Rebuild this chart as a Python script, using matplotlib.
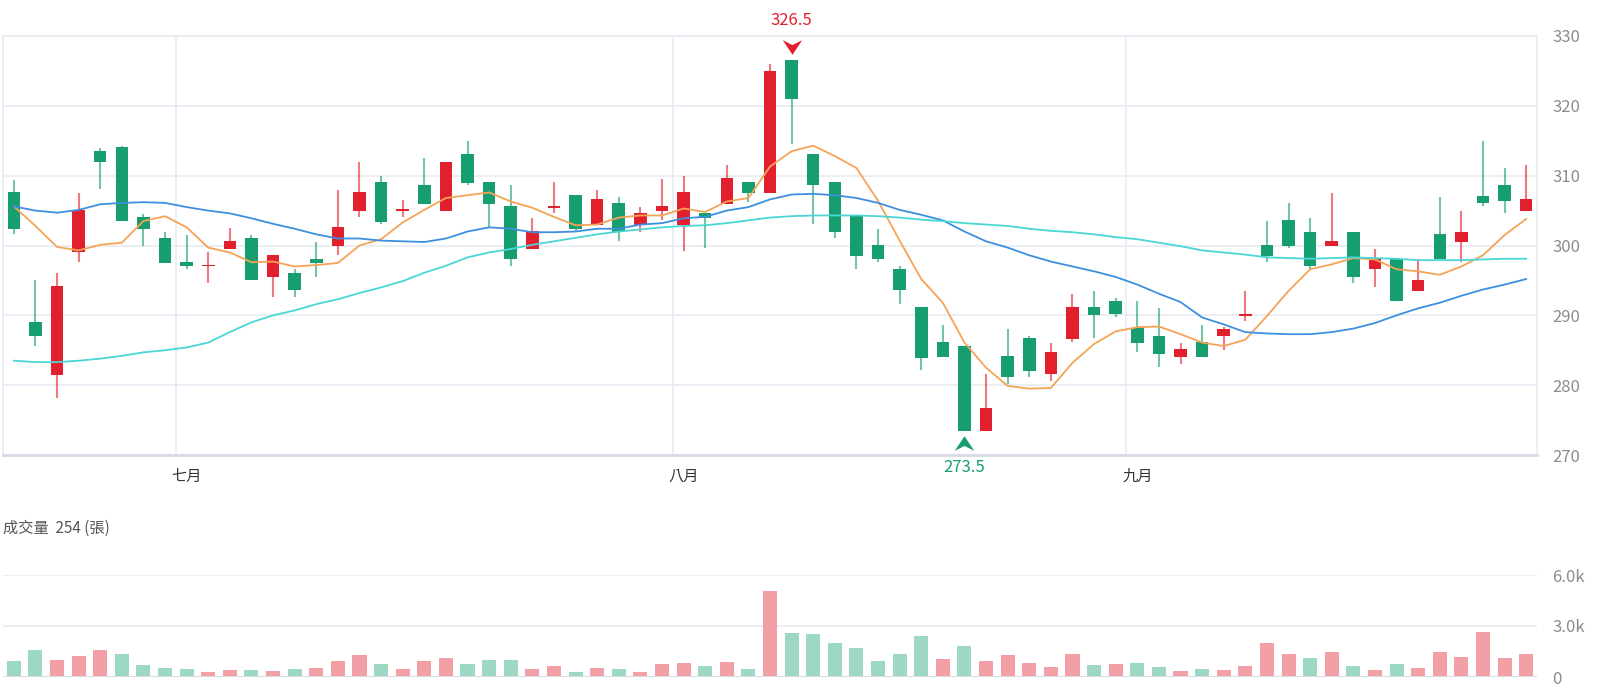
import numpy as np
import matplotlib
matplotlib.use('Agg')
import matplotlib.pyplot as plt
from matplotlib.path import Path
from matplotlib.transforms import offset_copy

plt.rcParams['font.family'] = ['Noto Sans CJK TC', 'DejaVu Sans']

# 日K資料 (讀自圖片)
opens = [307.6, 289.1, 281.5, 299.0, 313.6, 314.1, 304.1, 301.1, 297.6, 297.0,
         299.5, 301.1, 295.5, 296.1, 298.1, 300.0, 305.0, 309.1, 305.0, 308.7,
         305.0, 313.1, 309.1, 305.7, 299.5, 305.4, 307.2, 303.0, 306.1, 303.0,
         304.9, 303.0, 304.7, 306.0, 309.1, 307.5, 326.5, 313.1, 309.1, 304.2,
         300.1, 296.7, 291.2, 286.2, 285.6, 273.5, 284.2, 286.7, 281.6, 286.6,
         291.2, 292.1, 288.2, 287.1, 284.0, 286.2, 287.0, 289.9, 300.1, 303.6,
         302.0, 300.0, 302.0, 296.6, 298.1, 293.5, 301.7, 300.5, 307.1, 308.7, 304.9]
closes = [302.4, 287.0, 294.2, 305.1, 312.0, 303.5, 302.4, 297.5, 297.0, 297.2,
          300.6, 295.0, 298.6, 293.6, 297.5, 302.6, 307.6, 303.4, 305.2, 306.0,
          312.0, 309.0, 306.0, 298.0, 302.1, 305.7, 302.4, 306.6, 302.0, 304.7,
          305.7, 307.6, 304.0, 309.7, 307.5, 325.0, 321.0, 308.6, 302.0, 298.5,
          298.0, 293.6, 283.9, 284.0, 273.5, 276.7, 281.1, 282.0, 284.7, 291.2,
          290.0, 290.2, 286.1, 284.5, 285.2, 284.0, 288.1, 290.1, 298.5, 300.0,
          297.0, 300.6, 295.5, 298.1, 292.0, 295.1, 298.1, 302.0, 306.1, 306.4, 306.6]
highs = [309.4, 295.0, 296.0, 307.5, 314.0, 314.2, 304.5, 302.0, 301.5, 299.0,
         302.5, 301.5, 298.6, 296.6, 300.5, 308.0, 312.0, 310.0, 306.5, 312.5,
         312.0, 315.0, 309.1, 308.6, 304.0, 309.1, 307.2, 308.0, 307.0, 305.5,
         309.5, 310.0, 304.7, 311.5, 309.1, 326.0, 326.5, 313.1, 309.1, 304.2,
         302.4, 297.0, 291.2, 288.6, 285.6, 281.6, 288.0, 287.1, 286.1, 293.1,
         293.5, 292.5, 292.0, 291.1, 286.1, 288.6, 288.3, 293.5, 303.5, 306.1,
         303.9, 307.5, 302.0, 299.5, 298.1, 298.0, 307.0, 305.0, 315.0, 311.1, 311.5]
lows = [301.6, 285.6, 278.1, 297.6, 308.1, 303.5, 300.0, 297.5, 296.7, 294.7,
        299.5, 295.0, 292.6, 292.6, 295.5, 298.6, 304.1, 303.1, 304.1, 306.0,
        305.0, 308.6, 302.6, 297.0, 299.5, 304.7, 302.1, 303.0, 300.6, 302.0,
        303.6, 299.2, 299.6, 306.0, 306.2, 307.5, 314.6, 303.1, 301.1, 296.7,
        297.7, 291.6, 282.2, 284.0, 273.5, 273.6, 280.1, 281.1, 280.6, 286.2,
        286.7, 289.7, 284.7, 282.6, 283.1, 284.0, 285.1, 289.2, 297.7, 299.7,
        296.7, 300.0, 294.6, 294.1, 292.0, 293.5, 298.0, 297.7, 305.6, 304.7, 304.9]
volumes = [960, 1607, 980, 1215, 1568, 1333, 706, 529, 470, 274,
           392, 392, 372, 470, 549, 960, 1274, 745, 490, 941,
           1098, 745, 980, 1000, 490, 647, 314, 549, 451, 294,
           745, 823, 647, 902, 451, 5057, 2587, 2528, 1999, 1725,
           921, 1352, 2391, 1058, 1803, 921, 1294, 843, 568, 1352,
           706, 784, 823, 568, 372, 490, 431, 627, 2019, 1333,
           1098, 1450, 666, 412, 764, 529, 1450, 1156, 2646, 1098, 1352]

# 均線
ma5 = [305.6, 302.8, 299.8, 299.3, 300.1, 300.4, 303.5, 304.2, 302.6, 299.7,
       299.0, 297.6, 297.7, 297.0, 297.2, 297.5, 300.0, 300.9, 303.3, 305.1,
       306.8, 307.2, 307.6, 306.3, 305.4, 304.1, 302.9, 303.0, 304.0, 304.3,
       304.3, 305.3, 304.8, 306.3, 306.8, 311.3, 313.5, 314.3, 312.8, 311.1,
       306.4, 300.7, 295.2, 291.8, 286.1, 282.5, 279.9, 279.5, 279.6, 283.2,
       285.9, 287.7, 288.3, 288.4, 287.3, 286.1, 285.6, 286.5, 289.9, 293.5,
       296.6, 297.3, 298.2, 298.0, 296.6, 296.3, 295.8, 297.0, 298.6, 301.5, 303.8]
ma20 = [305.6, 305.0, 304.7, 305.1, 305.9, 306.1, 306.2, 306.1, 305.5, 305.0,
        304.6, 303.9, 303.1, 302.4, 301.6, 301.0, 301.0, 300.7, 300.6, 300.5,
        301.0, 302.0, 302.6, 302.4, 301.9, 301.9, 302.0, 302.4, 302.4, 303.0,
        303.2, 303.9, 304.1, 305.0, 305.5, 306.6, 307.3, 307.4, 307.2, 306.8,
        306.1, 305.1, 304.4, 303.6, 302.0, 300.6, 299.7, 298.6, 297.7, 297.0,
        296.3, 295.5, 294.4, 293.1, 291.9, 289.7, 288.7, 287.6, 287.4, 287.3,
        287.3, 287.6, 288.1, 288.9, 290.0, 291.0, 291.8, 292.8, 293.7, 294.4, 295.2]
ma60 = [283.5, 283.3, 283.3, 283.5, 283.8, 284.2, 284.7, 285.0, 285.4, 286.1,
        287.6, 289.0, 290.0, 290.7, 291.6, 292.3, 293.2, 294.0, 294.9, 296.1,
        297.1, 298.3, 299.0, 299.5, 300.1, 300.6, 301.1, 301.6, 302.0, 302.3,
        302.6, 302.8, 302.9, 303.2, 303.6, 304.0, 304.2, 304.3, 304.3, 304.3,
        304.2, 304.0, 303.7, 303.5, 303.2, 303.0, 302.8, 302.4, 302.1, 301.9,
        301.6, 301.2, 300.9, 300.4, 299.9, 299.3, 299.0, 298.7, 298.3, 298.2,
        298.1, 298.2, 298.3, 298.2, 298.1, 297.9, 297.9, 297.9, 298.0, 298.1, 298.1]

month_labels = ['七月', '八月', '九月']
month_start = [8, 31, 52]
vol_title = '成交量  254 (張)'

RED = '#e2202d'
GREEN = '#169e6f'
RED_V = '#f2a0a5'
GREEN_V = '#9dd8c2'
GRID = '#e8ebf2'
TXT = '#8c8c8c'

o = np.array(opens); c = np.array(closes)
h = np.array(highs); l = np.array(lows)
x = np.arange(len(o))

fig = plt.figure(figsize=(16, 7), dpi=100)
ax = fig.add_axes([3/1600, 1-455/700, 1534/1600, 419/700])
axv = fig.add_axes([3/1600, 1-677/700, 1534/1600, 102/700])

# K線
up = c >= o
cols = np.where(up, RED, GREEN)
ax.vlines(x, l, h, colors=cols, lw=1.5, alpha=0.6, zorder=3)
body = np.maximum(np.abs(c - o), 0.25)
ax.bar(x, body, bottom=np.minimum(o, c), width=0.58, color=cols, zorder=4)

ax.plot(x, ma5, color='#f5a356', lw=1.3, zorder=5)
ax.plot(x, ma20, color='#3d8fe0', lw=1.3, zorder=5)
ax.plot(x, ma60, color='#4ad6d6', lw=1.3, zorder=5)

ax.set_xlim(-0.5, len(x) - 0.5)
ax.set_ylim(270, 330)
ax.set_yticks(np.arange(270, 331, 10))
ax.yaxis.tick_right()
ax.tick_params(axis='y', length=0, pad=11, labelsize=12, labelcolor=TXT)
ax.set_xticks(month_start)
ax.set_xticklabels(month_labels)
ax.tick_params(axis='x', length=0, pad=9, labelsize=11, labelcolor='#333333')
ax.grid(axis='y', color=GRID, lw=1.2, zorder=0)
for m in month_start:
    ax.axvline(m - 0.5, color=GRID, lw=1.2, zorder=0)
for s in ['top', 'left', 'right']:
    ax.spines[s].set_color(GRID)
    ax.spines[s].set_linewidth(1.2)
ax.spines['bottom'].set_color('#d6dbe7')
ax.spines['bottom'].set_linewidth(2)

# 最高/最低標記
down_arrow = Path([(-1, 0.75), (0, -0.75), (1, 0.75), (0, 0.25), (-1, 0.75)],
                  [Path.MOVETO, Path.LINETO, Path.LINETO, Path.LINETO, Path.CLOSEPOLY])
up_arrow = Path([(-1, -0.75), (0, 0.75), (1, -0.75), (0, -0.25), (-1, -0.75)],
                [Path.MOVETO, Path.LINETO, Path.LINETO, Path.LINETO, Path.CLOSEPOLY])
imax = int(np.argmax(h)); imin = int(np.argmin(l))
ax.plot(imax, h[imax], marker=down_arrow, ms=14, color=RED, mew=0, clip_on=False,
        transform=offset_copy(ax.transData, fig=fig, y=13, units='dots'), zorder=6)
ax.text(imax, h[imax], f'{h[imax]:.1f}', color=RED, fontsize=12, ha='center', va='center',
        transform=offset_copy(ax.transData, fig=fig, y=40, units='dots'))
ax.plot(imin, l[imin], marker=up_arrow, ms=14, color=GREEN, mew=0, clip_on=False,
        transform=offset_copy(ax.transData, fig=fig, y=-12, units='dots'), zorder=6)
ax.text(imin, l[imin], f'{l[imin]:.1f}', color=GREEN, fontsize=12, ha='center', va='center',
        transform=offset_copy(ax.transData, fig=fig, y=-37, units='dots'))

# 成交量
prev = np.concatenate([[o[0]], c[:-1]])
vcols = np.where(c > prev, RED_V, GREEN_V)
axv.bar(x, volumes, width=0.65, color=vcols, zorder=3)
axv.set_xlim(-0.5, len(x) - 0.5)
axv.set_ylim(0, 6000)
axv.set_yticks([0, 3000, 6000])
axv.set_yticklabels(['0', '3.0k', '6.0k'])
axv.yaxis.tick_right()
axv.tick_params(axis='y', length=0, pad=11, labelsize=12, labelcolor=TXT)
axv.set_xticks([])
axv.axhline(3000, color=GRID, lw=1.2, zorder=0)
axv.axhline(6000, color=GRID, lw=1.2, zorder=0)
axv.axhline(0, color='#d6dbe7', lw=1.5, zorder=4)
for s in axv.spines.values():
    s.set_visible(False)

fig.text(3/1600, 1-528/700, vol_title, fontsize=11, color='#555555', va='center', ha='left')

fig.savefig('out.png', dpi=100)
